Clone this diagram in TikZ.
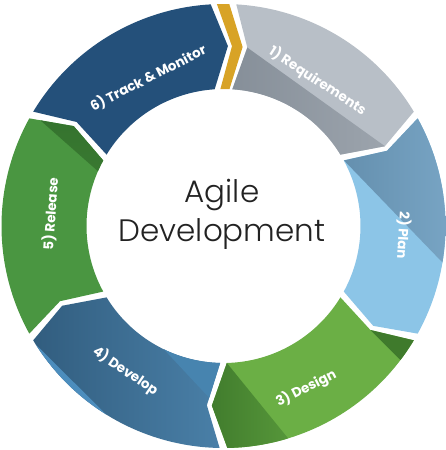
\documentclass[tikz,border=0pt]{standalone}
\usepackage{fontspec}
\setmainfont{Poppins}
\newfontfamily\lightfont{Poppins Light}

\definecolor{trackblue}{HTML}{24507A}
\definecolor{chevrongold}{HTML}{D8A326}
\definecolor{reqlight}{HTML}{B8BFC7}
\definecolor{reqdark}{HTML}{858E98}
\definecolor{reqmid}{HTML}{AAB1B9}
\definecolor{planlight}{HTML}{8CC5E7}
\definecolor{plandark}{HTML}{56809E}
\definecolor{planmid}{HTML}{7EABCB}
\definecolor{designlight}{HTML}{6BAF45}
\definecolor{designdark}{HTML}{3F7A2C}
\definecolor{designmid}{HTML}{5A9B3C}
\definecolor{devdark}{HTML}{2B5474}
\definecolor{devmid}{HTML}{4A80A8}
\definecolor{devpale}{HTML}{4784AF}
\definecolor{devlight}{HTML}{4C8DBD}
\definecolor{releasegreen}{HTML}{4A9641}
\definecolor{releasedark}{HTML}{2C6628}
\definecolor{releasemid}{HTML}{3C7E33}
\definecolor{titlegray}{HTML}{222222}

% one ring part: #1 = start angle, #2 = end angle (clockwise)
\newcommand{\ringseg}[2]{({#1-1}:222) arc[start angle={#1-1}, end angle={#2+1}, radius=222]
  -- ({#2+0.8-4.5}:180) -- ({#2+1.4}:137)
  arc[start angle={#2+1.4}, end angle={#1-1.4}, radius=137]
  -- ({#1-0.8-4.5}:180) -- cycle}

\begin{document}
\begin{tikzpicture}[x=1pt, y=1pt,
    seglabel/.style={text=white, font=\bfseries\fontsize{13.5}{14}\selectfont, inner sep=0pt}]
  \useasboundingbox (-223.5,-224) rectangle (222.5,226);

  % 1) requirements
  \fill[reqlight] \ringseg{87.7}{30};
  \begin{scope}
    \clip \ringseg{87.7}{30};
    \shade[left color=reqdark, right color=reqmid] (0,195.5) -- (260,9.1) -- (0,0) -- cycle;
  \end{scope}

  % 2) plan
  \fill[planlight] \ringseg{30}{-30};
  \begin{scope}
    \clip \ringseg{30}{-30};
    \shade[left color=plandark, right color=planmid] (40,149) -- (260,-79) -- (260,240) -- cycle;
  \end{scope}

  % 3) design
  \fill[designlight] \ringseg{330}{270};
  \begin{scope}
    \clip \ringseg{330}{270};
    \fill[designdark] (146.9,-104) -- (260,-217.1) -- (260,0) -- cycle;
    \shade[left color=designdark, right color=designmid] (-20,-108.3) -- (80,-231.3) -- (80,-260) -- (-20,-260) -- cycle;
  \end{scope}

  % 4) develop
  \begin{scope}
    \clip \ringseg{270}{210};
    \shade[left color=devdark, right color=devmid] (-240,-20) rectangle (0,-240);
    \fill[devpale] (-80,-101.5) -- (20,-208.5) -- (20,-80) -- cycle;
    \fill[devlight] (-220,-86.5) -- (-80,-225.5) -- (-240,-240) -- cycle;
  \end{scope}

  % 5) release
  \fill[releasegreen] \ringseg{210}{150};
  \begin{scope}
    \clip \ringseg{210}{150};
    \shade[top color=releasedark, bottom color=releasemid] (-240,155.9) -- (-60,-3.1) -- (-60,240) -- (-240,240) -- cycle;
  \end{scope}

  % 6) track & monitor
  \fill[trackblue] \ringseg{150}{92.3};

  % chevron between 6) and 1)
  \fill[chevrongold] (91.7:222) -- (87.3:180) -- (91.3:137) -- (87.5:137) -- (83.9:180) -- (88.5:222) -- cycle;

  \node[seglabel, rotate=-33] (req) at (57:173) {1) Requirements};
  \node[seglabel, rotate=-93] (plan) at (-3:180) {2) Plan};
  \node[seglabel, rotate=27] (design) at (-63:182) {3) Design};
  \node[seglabel, rotate=-34] (develop) at (-124:175) {4) Develop};
  \node[seglabel, rotate=86] (release) at (176:173) {5) Release};
  \node[seglabel, rotate=27] (track) at (117:166) {6) Track \& Monitor};

  \node[align=center, text=titlegray, font=\lightfont\fontsize{31}{38.4}\selectfont] (title) at (-1.5,11.6) {Agile\\Development};
\end{tikzpicture}
\end{document}
